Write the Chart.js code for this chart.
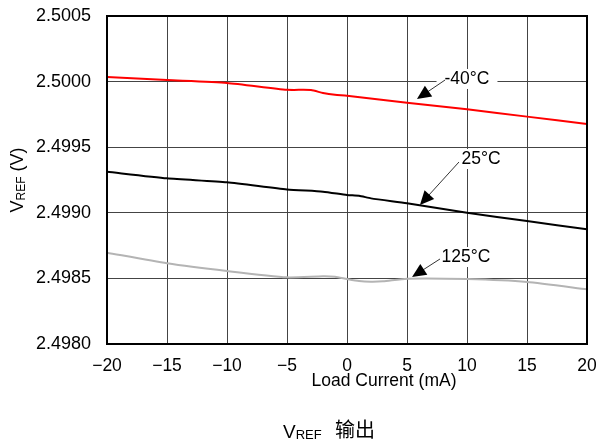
<!DOCTYPE html>
<html>
<head>
<meta charset="utf-8">
<script src="https://cdn.jsdelivr.net/npm/chart.js@4"></script>
<style>
  html, body { margin: 0; padding: 0; background: #fff; }
</style>
</head>
<body>
<canvas id="myChart" width="596" height="446"></canvas>
<script>
// load current (mA) and VREF (V)
var xMinus40 = [-20, -15, -10, -5, -3, -2, -1, 0, 5, 10, 15, 20];
var vMinus40 = [2.500035, 2.500012, 2.499990, 2.499938, 2.499936, 2.499913, 2.499899, 2.499893, 2.499839, 2.499789, 2.499733, 2.499677];

var x25 = [-20, -15, -10, -5, -2, 0, 1, 2, 5, 10, 15, 20];
var v25 = [2.499313, 2.499263, 2.499232, 2.499178, 2.499161, 2.499136, 2.499130, 2.499110, 2.499072, 2.499001, 2.498937, 2.498874];

var x125 = [-20, -15, -10, -5, -2, -1, 0, 1, 2, 3, 5, 10, 15, 20];
var v125 = [2.498696, 2.498615, 2.498556, 2.498508, 2.498516, 2.498512, 2.498495, 2.498480, 2.498475, 2.498478, 2.498498, 2.498495, 2.498473, 2.498417];

// annotation labels: [text, textX, textY, arrowFromX, arrowFromY, tipX, tipY]
var notes = [
    ['-40°C', 10.0, 2.500020, 8.17, 2.500012, 5.83, 2.499867],
    ['25°C', 11.17, 2.499410, 9.33, 2.499387, 6.08, 2.499060],
    ['125°C', 9.92, 2.498663, 7.75, 2.498648, 5.42, 2.498511]
];

function pts(xs, ys) {
    return xs.map(function (x, i) { return { x: x, y: ys[i] }; });
}

var FONT = '"Liberation Sans", Arial, sans-serif';
var CJK = '"Noto Sans CJK SC", ' + FONT;

var extras = {
    id: 'extras',
    afterDatasetsDraw: function (chart) {
        var c = chart.ctx, sx = chart.scales.x, sy = chart.scales.y;
        c.save();
        c.font = '17.5px ' + FONT;
        c.textBaseline = 'middle';
        c.textAlign = 'center';
        notes.forEach(function (n) {
            var tx = sx.getPixelForValue(n[1]), ty = sy.getPixelForValue(n[2]);
            var w = c.measureText(n[0]).width;
            c.fillStyle = '#fff';
            c.fillRect(tx - w / 2 - 8, ty - 10, w + 16, 20);
            c.fillStyle = '#000';
            c.fillText(n[0], tx, ty);
            var x0 = sx.getPixelForValue(n[3]), y0 = sy.getPixelForValue(n[4]);
            var x1 = sx.getPixelForValue(n[5]), y1 = sy.getPixelForValue(n[6]);
            var a = Math.atan2(y1 - y0, x1 - x0);
            c.strokeStyle = '#000';
            c.lineWidth = 0.8;
            c.beginPath();
            c.moveTo(x0, y0);
            c.lineTo(x1 - 10 * Math.cos(a), y1 - 10 * Math.sin(a));
            c.stroke();
            c.beginPath();
            c.moveTo(x1, y1);
            c.lineTo(x1 - 14 * Math.cos(a) + 6.5 * Math.sin(a), y1 - 14 * Math.sin(a) - 6.5 * Math.cos(a));
            c.lineTo(x1 - 14 * Math.cos(a) - 6.5 * Math.sin(a), y1 - 14 * Math.sin(a) + 6.5 * Math.cos(a));
            c.closePath();
            c.fillStyle = '#000';
            c.fill();
        });
        c.restore();
    },
    afterDraw: function (chart) {
        var c = chart.ctx, a = chart.chartArea;
        c.save();
        // frame
        c.strokeStyle = '#000';
        c.lineWidth = 2;
        c.strokeRect(a.left, a.top, a.right - a.left, a.bottom - a.top);

        c.fillStyle = '#000';
        c.textBaseline = 'middle';
        // x title
        c.font = '17.5px ' + FONT;
        c.textAlign = 'center';
        c.fillText('Load Current (mA)', 384, 381);

        // y title with subscript
        c.translate(18, 180);
        c.rotate(-Math.PI / 2);
        c.textAlign = 'left';
        var big = '18px ' + FONT, small = '12px ' + FONT;
        c.font = big; var wV = c.measureText('V').width;
        c.font = small; var wR = c.measureText('REF').width;
        c.font = big; var wT = c.measureText(' (V)').width;
        var x = -(wV + wR + wT) / 2;
        c.font = big; c.fillText('V', x, 0); x += wV;
        c.font = small; c.fillText('REF', x, 4); x += wR;
        c.font = big; c.fillText(' (V)', x, 0);
        c.setTransform(1, 0, 0, 1, 0, 0);

        // caption
        c.textBaseline = 'alphabetic';
        var cx = 283;
        c.font = '19px ' + FONT; c.fillText('V', cx, 438); cx += c.measureText('V').width;
        c.font = '13px ' + FONT; c.fillText('REF', cx, 439);
        c.font = '20px ' + CJK; c.fillText('输出', 335, 437);
        c.restore();
    }
};

var ctx = document.getElementById('myChart').getContext('2d');
var myChart = new Chart(ctx, {
    type: 'line',
    data: {
        datasets: [{
            label: '-40°C',
            data: pts(xMinus40, vMinus40),
            borderColor: '#ff0000',
            borderWidth: 2,
            pointRadius: 0,
            tension: 0.2
        }, {
            label: '25°C',
            data: pts(x25, v25),
            borderColor: '#000000',
            borderWidth: 2,
            pointRadius: 0,
            tension: 0.2
        }, {
            label: '125°C',
            data: pts(x125, v125),
            borderColor: '#b4b4b4',
            borderWidth: 2,
            pointRadius: 0,
            tension: 0.2
        }]
    },
    plugins: [extras],
    options: {
        responsive: false,
        animation: false,
        layout: { padding: { top: 16, right: 9, left: 0, bottom: 0 } },
        plugins: { legend: { display: false }, tooltip: { enabled: false } },
        scales: {
            x: {
                type: 'linear',
                min: -20,
                max: 20,
                afterFit: function (s) {
                    s.height = 102;
                    s.paddingLeft = 0; s.paddingRight = 0;
                },
                grid: { color: '#444', lineWidth: 1, drawTicks: false },
                border: { display: false },
                ticks: {
                    stepSize: 5,
                    padding: 12,
                    color: '#000',
                    font: { family: FONT, size: 17.5 },
                    maxRotation: 0,
                    callback: function (v) { return v < 0 ? '\u2212' + Math.abs(v) : String(v); }
                }
            },
            y: {
                min: 2.498,
                max: 2.5005,
                afterFit: function (s) {
                    s.width = 107;
                    s.paddingTop = 0; s.paddingBottom = 0;
                },
                grid: { color: '#444', lineWidth: 1, drawTicks: false },
                border: { display: false },
                ticks: {
                    stepSize: 0.0005,
                    padding: 16,
                    color: '#000',
                    font: { family: FONT, size: 18 },
                    callback: function (v) { return v.toFixed(4); }
                }
            }
        }
    }
});
</script>
</body>
</html>
